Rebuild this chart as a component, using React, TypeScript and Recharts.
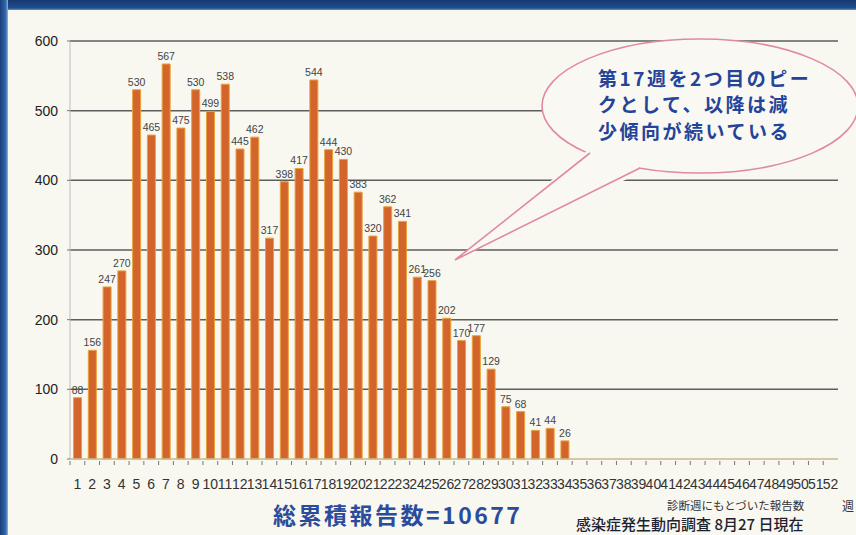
import { BarChart, Bar, XAxis, YAxis, CartesianGrid, LabelList } from 'recharts';

// 診断週 1..52, 報告数 (weeks 35-52 not reported yet)
const weeks = Array.from({ length: 52 }, (_, i) => String(i + 1));
const reports = [
    88, 156, 247, 270, 530, 465, 567, 475, 530, 499, 538, 445, 462, 317, 398, 417, 544,
    444, 430, 383, 320, 362, 341, 261, 256, 202, 170, 177, 129, 75, 68, 41, 44, 26,
];
const yTicks = [0, 100, 200, 300, 400, 500, 600];
const gridValues = [100, 200, 300, 400, 500, 600];

const data = weeks.map((w, i) => ({ week: w, count: i < reports.length ? reports[i] : null }));

const W = 856;
const H = 535;
const M = { top: 41, right: 18, left: 0, bottom: 46 };
const Y_W = 70;
const step = (W - M.right - Y_W) / weeks.length;

const font = '"Liberation Sans", Arial, sans-serif';
const jp = '"Noto Sans CJK JP", "Noto Sans", sans-serif';

const WeekTick = (props: any) => {
    const { x, y, payload } = props;
    return (
        <g>
            <line x1={x - step / 2} x2={x - step / 2} y1={y} y2={y + 4} stroke="#777" strokeWidth={1} />
            <text x={x} y={y + 28} textAnchor="middle" fontSize={14} fill="#333" fontFamily={font}>
                {payload.value}
            </text>
        </g>
    );
};

const Bubble = () => (
    <svg width={W} height={H} style={{ position: 'absolute', left: 0, top: 0, pointerEvents: 'none' }}>
        <ellipse cx={700} cy={106} rx={158} ry={67} fill="#f9f8f2" stroke="#e08aa0" strokeWidth={1.6} />
        <polygon points="588,150 455,260 642,172 620,140" fill="#f9f8f2" />
        <polyline points="590,153 455,260 640,168" fill="none" stroke="#e08aa0" strokeWidth={1.6} />
        <g fontFamily={jp} fontWeight={700} fontSize={19} fill="#24449a" letterSpacing={2.5}>
            <text x={598} y={86}>第17週を2つ目のピー</text>
            <text x={598} y={112}>クとして、以降は減</text>
            <text x={598} y={139}>少傾向が続いている</text>
        </g>
    </svg>
);

export default function App() {
    return (
        <div
            style={{
                position: 'fixed',
                left: 0,
                top: 0,
                width: W,
                height: H,
                overflow: 'hidden',
                background: '#f8f7f0',
            }}
        >
            <div style={{ position: 'absolute', left: 0, top: 0, width: W, height: 10, background: 'linear-gradient(#17386e, #1f4f8f 80%, #6f8fb0)' }} />
            <div style={{ position: 'absolute', left: 0, top: 0, width: 8, height: H, background: 'linear-gradient(90deg, #1a3f7a, #2e68b0 70%, #9ab4cf)' }} />
            <BarChart width={W} height={H} data={data} margin={M} barCategoryGap="24%">
                <CartesianGrid vertical={false} horizontalValues={gridValues} stroke="#5e5e5e" strokeWidth={1.5} />
                <XAxis
                    dataKey="week"
                    interval={0}
                    tickLine={false}
                    tickSize={0}
                    tick={<WeekTick />}
                    height={30}
                    axisLine={{ stroke: '#c9b98c', strokeWidth: 1.5 }}
                />
                <YAxis
                    domain={[0, 600]}
                    ticks={yTicks}
                    width={Y_W}
                    tickSize={3}
                    tickMargin={9}
                    tickLine={{ stroke: '#777' }}
                    axisLine={{ stroke: '#bdbdbd' }}
                    tick={{ fontSize: 14, fill: '#222', fontFamily: font }}
                />
                <Bar dataKey="count" fill="#d3642c" stroke="#e9a13c" strokeWidth={1} isAnimationActive={false}>
                    <LabelList dataKey="count" position="top" offset={4} fontSize={10.5} fill="#444" fontFamily={font} />
                </Bar>
            </BarChart>
            <Bubble />
            <div style={{ position: 'absolute', left: 273, top: 499, lineHeight: '30px', fontFamily: jp, fontWeight: 700, fontSize: 23, color: '#2b4c9c', letterSpacing: 2.5, whiteSpace: 'nowrap' }}>
                総累積報告数=10677
            </div>
            <div style={{ position: 'absolute', left: 667, top: 497, fontFamily: jp, fontSize: 11.5, color: '#333', whiteSpace: 'nowrap' }}>
                診断週にもとづいた報告数
            </div>
            <div style={{ position: 'absolute', left: 842, top: 497, fontFamily: jp, fontSize: 12, color: '#333', whiteSpace: 'nowrap' }}>
                週
            </div>
            <div style={{ position: 'absolute', left: 576, top: 513, fontFamily: jp, fontWeight: 500, fontSize: 15, color: '#1e2230', whiteSpace: 'nowrap' }}>
                感染症発生動向調査 8月27 日現在
            </div>
        </div>
    );
}
